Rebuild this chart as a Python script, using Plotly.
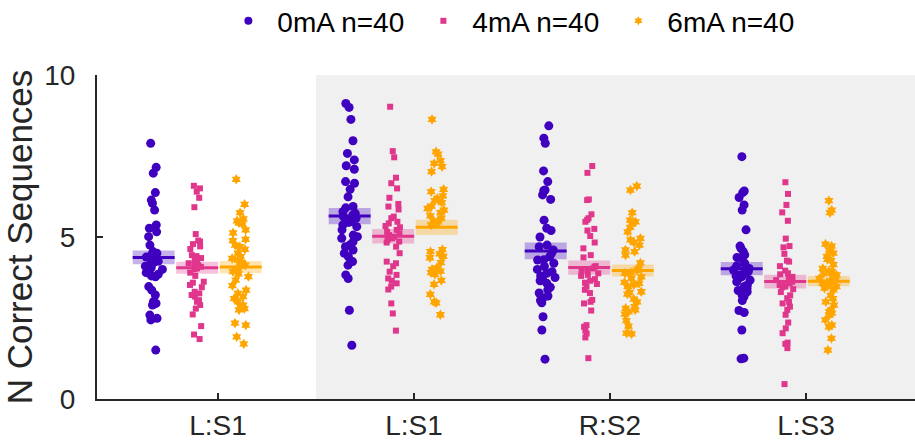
import plotly.graph_objects as go
import numpy as np

# ---------------- data ----------------
groups = ["L:S1", "L:S1", "R:S2", "L:S3"]
series_names = ["0mA n=40", "4mA n=40", "6mA n=40"]

mA0_g1 = [7.89, 7.15, 6.97, 6.37, 6.14, 6.04, 5.83, 5.37, 5.27, 5.16,
          5.01, 4.75, 4.55, 4.50, 4.45, 4.42, 4.38, 4.35, 4.30, 4.25,
          4.20, 4.15, 4.10, 4.05, 4.00, 3.95, 3.90, 3.85, 3.80, 3.77,
          3.47, 3.36, 3.21, 3.00, 2.95, 2.90, 2.59, 2.49, 2.44, 1.51]
mA4_g1 = [6.58, 6.50, 6.40, 6.21, 5.92, 5.09, 4.89, 4.86, 4.78, 4.71,
          4.63, 4.44, 4.41, 4.29, 4.24, 4.19, 4.13, 4.08, 4.03, 4.00,
          3.62, 3.59, 3.52, 3.31, 3.26, 3.21, 3.16, 3.05, 3.00, 2.79,
          2.61, 2.25, 1.99, 1.85, 4.35, 4.15, 3.90, 3.80, 3.45, 2.90]
mA6_g1 = [6.78, 6.01, 5.75, 5.56, 5.50, 5.44, 5.40, 5.22, 5.13, 4.93,
          4.89, 4.75, 4.70, 4.62, 4.39, 4.34, 4.29, 4.21, 4.13, 4.03,
          3.93, 3.86, 3.78, 3.67, 3.36, 3.26, 3.16, 3.00, 2.90, 2.85,
          2.79, 2.75, 2.34, 2.28, 1.92, 1.70, 4.50, 4.10, 3.50, 3.10]

mA0_g2 = [9.12, 9.00, 8.63, 7.97, 7.58, 7.38, 7.20, 7.09, 6.71, 6.66,
          6.47, 6.24, 5.94, 5.78, 5.73, 5.68, 5.63, 5.58, 5.53, 5.47,
          5.37, 5.32, 5.22, 5.06, 5.01, 4.96, 4.75, 4.70, 4.60, 4.50,
          4.39, 4.24, 4.13, 3.83, 3.72, 2.74, 1.66, 5.90, 5.45, 4.85]
mA4_g2 = [9.02, 7.65, 7.46, 6.83, 6.66, 6.50, 6.21, 6.02, 5.94, 5.85,
          5.63, 5.58, 5.47, 5.42, 5.34, 5.22, 5.16, 5.11, 5.06, 5.01,
          4.96, 4.91, 4.86, 4.83, 4.50, 4.24, 4.19, 4.10, 3.93, 3.83,
          3.72, 3.57, 3.47, 3.38, 2.95, 2.64, 2.11, 5.30, 4.70, 3.65]
mA6_g2 = [8.63, 7.63, 7.56, 7.36, 7.27, 7.17, 7.02, 6.47, 6.40, 6.27,
          6.19, 6.12, 6.06, 5.88, 5.83, 5.75, 5.65, 5.58, 5.47, 5.42,
          5.37, 4.61, 4.48, 4.40, 4.36, 4.21, 4.00, 3.95, 3.90, 3.85,
          3.66, 3.54, 3.23, 2.97, 2.60, 5.95, 5.50, 4.55, 4.05, 3.00]

mA0_g3 = [8.43, 8.05, 7.89, 7.04, 6.71, 6.45, 6.43, 6.30, 6.16, 5.52,
          5.27, 5.20, 4.75, 4.70, 4.60, 4.39, 4.29, 4.19, 4.09, 4.00,
          3.93, 3.88, 3.80, 3.72, 3.65, 3.57, 3.37, 3.27, 3.18, 3.11,
          3.04, 2.97, 2.54, 2.13, 1.23, 5.00, 4.50, 4.30, 3.75, 3.45]
mA4_g3 = [7.19, 6.98, 6.16, 6.14, 5.70, 5.58, 5.53, 5.47, 5.25, 5.20,
          5.03, 4.83, 4.65, 4.44, 4.37, 4.08, 4.03, 3.88, 3.83, 3.80,
          3.65, 3.59, 3.47, 3.37, 3.27, 3.06, 3.00, 2.73, 2.28, 2.23,
          2.11, 2.02, 1.90, 1.26, 4.10, 4.00, 3.95, 3.70, 3.55, 2.95]
mA6_g3 = [6.57, 6.45, 5.75, 5.52, 5.47, 5.40, 5.30, 5.16, 4.96, 4.91,
          4.83, 4.75, 4.60, 4.55, 4.44, 4.03, 3.98, 3.88, 3.77, 3.72,
          3.57, 3.52, 3.47, 3.31, 3.28, 3.24, 3.08, 3.00, 2.85, 2.80,
          2.75, 2.69, 2.62, 2.42, 2.25, 2.03, 2.01, 4.20, 3.90, 3.60]

mA0_g4 = [7.48, 6.42, 6.37, 6.22, 5.99, 5.83, 5.22, 4.72, 4.65, 4.55,
          4.37, 4.34, 4.19, 4.11, 4.03, 3.98, 3.93, 3.88, 3.83, 3.77,
          3.72, 3.67, 3.62, 3.52, 3.47, 3.42, 3.31, 3.24, 3.21, 3.16,
          3.04, 2.73, 2.67, 2.13, 1.26, 1.24, 4.45, 4.00, 3.80, 3.35]
mA4_g4 = [6.69, 6.33, 5.99, 5.76, 5.50, 4.95, 4.72, 4.68, 4.48, 4.27,
          4.24, 3.96, 3.88, 3.77, 3.72, 3.67, 3.62, 3.57, 3.52, 3.47,
          3.39, 3.11, 3.00, 2.95, 2.85, 2.75, 2.36, 2.18, 2.03, 1.74,
          1.70, 1.57, 0.46, 4.10, 3.85, 3.55, 3.45, 3.30, 3.20, 2.60]
mA6_g4 = [6.12, 5.83, 5.75, 4.78, 4.72, 4.60, 4.50, 4.31, 4.27, 4.03,
          3.93, 3.88, 3.83, 3.77, 3.72, 3.67, 3.62, 3.57, 3.52, 3.47,
          3.42, 3.37, 3.00, 2.90, 2.75, 2.70, 2.65, 2.59, 2.44, 2.28,
          2.23, 1.87, 1.51, 4.40, 4.15, 3.95, 3.60, 3.50, 3.20, 3.10]

series_data = [
    [mA0_g1, mA0_g2, mA0_g3, mA0_g4],
    [mA4_g1, mA4_g2, mA4_g3, mA4_g4],
    [mA6_g1, mA6_g2, mA6_g3, mA6_g4],
]

# ---------------- style ----------------
colors = ["#3F00BF", "#E0368C", "#FFA500"]
band_colors = ["rgba(63,0,191,0.30)", "rgba(224,54,140,0.30)", "rgba(255,165,0,0.30)"]
symbols = ["circle", "square", "hexagram"]
msizes = [9, 6, 8]
leg_sizes = [8, 6, 7]
offsets = [-0.328, -0.106, 0.116]
half_w = 0.107
FONT = "Liberation Sans, Arial, Helvetica, sans-serif"
AX = "#262626"

group_pos = [1, 2, 3, 4]

fig = go.Figure()

# bands (mean +/- SEM)
for s in range(3):
    bx, by = [], []
    for g, vals in enumerate(series_data[s]):
        v = np.array(vals)
        m = v.mean()
        sem = v.std(ddof=1) / np.sqrt(len(v))
        c = group_pos[g] + offsets[s]
        bx += [c - half_w, c + half_w, c + half_w, c - half_w, c - half_w, None]
        by += [m - sem, m - sem, m + sem, m + sem, m - sem, None]
    fig.add_trace(go.Scatter(x=bx, y=by, mode="lines", fill="toself",
                             fillcolor=band_colors[s], line=dict(width=0),
                             showlegend=False, hoverinfo="skip"))

# jittered points
for s in range(3):
    xs, ys = [], []
    for g, vals in enumerate(series_data[s]):
        xs += [group_pos[g] + offsets[s]] * len(vals)
        ys += list(vals)
    fig.add_trace(go.Box(x=xs, y=ys, boxpoints="all", jitter=0.52, pointpos=0,
                         width=0.2, fillcolor="rgba(0,0,0,0)",
                         line=dict(width=0, color="rgba(0,0,0,0)"),
                         marker=dict(color=colors[s], symbol=symbols[s], size=msizes[s],
                                     line=dict(width=0)),
                         showlegend=False, name=series_names[s]))

# mean lines
for s in range(3):
    lx, ly = [], []
    for g, vals in enumerate(series_data[s]):
        m = float(np.mean(vals))
        c = group_pos[g] + offsets[s]
        lx += [c - half_w, c + half_w, None]
        ly += [m, m, None]
    fig.add_trace(go.Scatter(x=lx, y=ly, mode="lines",
                             line=dict(color=colors[s], width=3),
                             showlegend=False, hoverinfo="skip"))

# legend entries
for s in range(3):
    fig.add_trace(go.Scatter(x=[None], y=[None], mode="markers", name=series_names[s],
                             marker=dict(color=colors[s], symbol=symbols[s], size=leg_sizes[s])))

fig.add_shape(type="rect", xref="x", yref="y", x0=1.5, x1=4.7, y0=0, y1=10,
              fillcolor="#F0F0F0", line=dict(width=0), layer="below")

fig.update_layout(
    width=915, height=441,
    margin=dict(l=97, r=0, t=75, b=42, autoexpand=False),
    paper_bgcolor="white", plot_bgcolor="white",
    font=dict(family=FONT, color="#262626"),
    showlegend=True,
    legend=dict(orientation="h", x=0.1496, xanchor="left", y=1.2435, yanchor="top",
                font=dict(size=28, family=FONT, color="black"),
                itemwidth=48, entrywidth=132,
                bgcolor="rgba(0,0,0,0)"),
    xaxis=dict(range=[0.383, 4.556], tickvals=group_pos, ticktext=groups,
               ticks="inside", ticklen=6, tickwidth=1.5, tickcolor=AX,
               showline=True, linecolor=AX, linewidth=2, showgrid=False, zeroline=False,
               automargin=False,
               tickfont=dict(size=28, family=FONT, color="#262626"), ticklabelstandoff=0),
    yaxis=dict(range=[0, 10], tickvals=[0, 5, 10],
               ticks="inside", ticklen=6, tickwidth=1.5, tickcolor=AX,
               showline=True, linecolor=AX, linewidth=2, showgrid=False, zeroline=False,
               automargin=False,
               tickfont=dict(size=28, family=FONT, color="#262626"), ticklabelstandoff=14,
               title=dict(text="N Correct Sequences", standoff=3,
                          font=dict(size=35, family=FONT, color="#262626"))),
)

fig.write_html("out.html", config={"displayModeBar": False},
               post_script="document.body.style.margin='0';document.body.style.overflow='hidden';")
